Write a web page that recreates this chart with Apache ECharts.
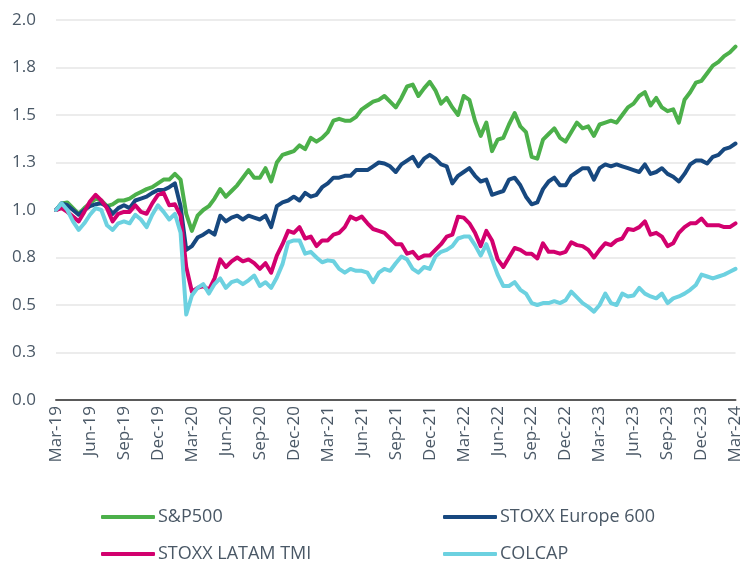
<!DOCTYPE html>
<html>
<head>
<meta charset="utf-8">
<script src="https://cdn.jsdelivr.net/npm/echarts@6/dist/echarts.min.js"></script>
<style>
html, body { margin: 0; padding: 0; background: #fff; }
#chart { width: 744px; height: 562px; }
</style>
</head>
<body>
<div id="chart"></div>
<script>
// quarterly tick labels on the x axis (one every 3 months)
const xTicks = ['Mar-19','Jun-19','Sep-19','Dec-19','Mar-20','Jun-20','Sep-20','Dec-20',
  'Mar-21','Jun-21','Sep-21','Dec-21','Mar-22','Jun-22','Sep-22','Dec-22',
  'Mar-23','Jun-23','Sep-23','Dec-23','Mar-24'];

// indexed values (Mar-19 = 1), sampled every half month
const sp500 = [
  1.00,1.035,1.04,1.01,0.98,1.01,1.035,1.06,1.05,1.02,1.03,1.05,
  1.05,1.06,1.08,1.095,1.11,1.12,1.14,1.16,1.16,1.19,1.16,0.98,
  0.89,0.97,1.00,1.02,1.06,1.11,1.07,1.10,1.13,1.17,1.21,1.17,
  1.17,1.22,1.15,1.25,1.29,1.30,1.31,1.34,1.32,1.38,1.36,1.38,
  1.41,1.47,1.48,1.47,1.47,1.49,1.53,1.55,1.57,1.58,1.60,1.57,
  1.54,1.59,1.65,1.66,1.60,1.64,1.675,1.63,1.56,1.59,1.54,1.50,
  1.60,1.58,1.47,1.39,1.46,1.31,1.37,1.38,1.45,1.51,1.44,1.41,
  1.28,1.27,1.37,1.40,1.43,1.38,1.36,1.41,1.46,1.43,1.44,1.39,
  1.45,1.46,1.47,1.46,1.50,1.54,1.56,1.60,1.62,1.55,1.59,1.54,
  1.52,1.53,1.46,1.58,1.62,1.67,1.68,1.72,1.76,1.78,1.81,1.83,
  1.86
];
const stoxx600 = [
  1.00,1.035,1.025,1.00,0.975,1.00,1.02,1.03,1.035,1.02,0.98,1.01,
  1.025,1.01,1.05,1.06,1.07,1.09,1.105,1.105,1.12,1.14,1.02,0.79,
  0.81,0.855,0.87,0.89,0.87,0.97,0.94,0.96,0.97,0.95,0.97,0.96,
  0.95,0.97,0.91,1.02,1.04,1.05,1.07,1.05,1.09,1.07,1.08,1.12,
  1.14,1.17,1.17,1.18,1.18,1.21,1.21,1.21,1.23,1.25,1.245,1.23,
  1.20,1.24,1.26,1.28,1.23,1.27,1.29,1.27,1.24,1.23,1.14,1.18,
  1.20,1.22,1.18,1.15,1.16,1.08,1.09,1.10,1.16,1.17,1.13,1.07,
  1.03,1.04,1.11,1.15,1.17,1.13,1.13,1.18,1.20,1.22,1.22,1.16,
  1.22,1.24,1.23,1.24,1.23,1.22,1.21,1.20,1.24,1.19,1.20,1.22,
  1.19,1.175,1.15,1.19,1.24,1.26,1.26,1.245,1.28,1.29,1.32,1.33,
  1.35
];
const latamTmi = [
  1.00,1.01,0.99,0.965,0.94,0.99,1.045,1.08,1.05,1.01,0.94,0.98,
  0.99,0.99,1.025,0.99,0.98,1.035,1.08,1.09,1.025,1.03,0.97,0.70,
  0.57,0.59,0.60,0.58,0.64,0.74,0.70,0.73,0.75,0.73,0.74,0.72,
  0.69,0.72,0.67,0.76,0.82,0.89,0.88,0.91,0.85,0.86,0.81,0.84,
  0.84,0.87,0.88,0.91,0.965,0.95,0.965,0.93,0.90,0.89,0.88,0.85,
  0.82,0.82,0.77,0.78,0.745,0.76,0.76,0.79,0.82,0.86,0.87,0.965,
  0.96,0.93,0.88,0.81,0.89,0.84,0.74,0.70,0.75,0.80,0.79,0.77,
  0.77,0.745,0.825,0.78,0.78,0.77,0.78,0.83,0.815,0.81,0.79,0.75,
  0.79,0.825,0.815,0.84,0.85,0.90,0.895,0.91,0.94,0.87,0.88,0.86,
  0.81,0.825,0.88,0.91,0.93,0.93,0.955,0.92,0.92,0.92,0.91,0.91,
  0.93
];
const colcap = [
  1.00,1.035,1.00,0.94,0.895,0.93,0.975,1.01,1.00,0.92,0.895,0.93,
  0.94,0.93,0.975,0.95,0.91,0.975,1.025,0.99,0.95,0.98,0.88,0.45,
  0.55,0.59,0.61,0.56,0.61,0.64,0.59,0.62,0.63,0.61,0.63,0.655,
  0.60,0.62,0.59,0.645,0.715,0.83,0.84,0.84,0.77,0.78,0.75,0.725,
  0.735,0.73,0.69,0.67,0.69,0.68,0.68,0.67,0.62,0.67,0.69,0.68,
  0.72,0.755,0.74,0.69,0.67,0.70,0.69,0.755,0.78,0.79,0.81,0.85,
  0.86,0.86,0.815,0.76,0.82,0.74,0.66,0.60,0.60,0.62,0.58,0.56,
  0.51,0.50,0.51,0.51,0.52,0.51,0.525,0.57,0.54,0.51,0.49,0.465,
  0.50,0.56,0.51,0.50,0.56,0.545,0.55,0.59,0.56,0.545,0.535,0.56,
  0.51,0.535,0.545,0.56,0.58,0.605,0.66,0.65,0.64,0.65,0.66,0.675,
  0.69
];

const STEP = 0.5; // months between two samples
const textColor = '#4a5866';
const font = 'Open Sans';

function pts(arr) {
  return arr.map((v, i) => [i * STEP, v]);
}

function line(name, data, color) {
  return {
    name: name,
    type: 'line',
    data: pts(data),
    symbol: 'none',
    color: color,
    lineStyle: { width: 4, color: color, cap: 'round', join: 'round' }
  };
}

// one legend per entry so they sit in a 2x2 block
function legendItem(name, left, top) {
  return {
    left: left, top: top,
    icon: 'roundRect',
    itemWidth: 54, itemHeight: 4,
    itemGap: 0,
    data: [name],
    textStyle: { color: textColor, fontSize: 18, fontFamily: font, padding: [0, 0, 0, -2] }
  };
}

const chart = echarts.init(document.getElementById('chart'));

let option = {
  backgroundColor: '#ffffff',
  animation: false,
  textStyle: { fontFamily: font },
  grid: { left: 56, right: 8, top: 20, bottom: 162 },
  legend: [
    legendItem('S&P500', 96, 503),
    legendItem('STOXX Europe 600', 438, 503),
    legendItem('STOXX LATAM TMI', 96, 540),
    legendItem('COLCAP', 438, 540)
  ],
  xAxis: {
    type: 'value',
    min: 0,
    max: 60,
    interval: 3,
    axisLine: { show: true, onZero: false, lineStyle: { color: '#5a5a5a', width: 2 } },
    axisTick: { show: false },
    splitLine: { show: false },
    axisLabel: {
      rotate: 90,
      margin: 6,
      color: textColor,
      fontSize: 17,
      fontFamily: font,
      formatter: v => xTicks[Math.round(v / 3)]
    }
  },
  yAxis: {
    type: 'value',
    min: 0,
    max: 2,
    interval: 0.25,
    axisLine: { show: false },
    axisTick: { show: false },
    splitLine: { lineStyle: { color: '#ececec', width: 2 } },
    axisLabel: {
      margin: 20,
      color: textColor,
      fontSize: 17,
      fontFamily: font,
      formatter: v => v.toFixed(1)
    }
  },
  series: [
    line('S&P500', sp500, '#4cb04a'),
    line('STOXX Europe 600', stoxx600, '#17487f'),
    line('STOXX LATAM TMI', latamTmi, '#d2006e'),
    line('COLCAP', colcap, '#6cd1e0')
  ]
};

chart.setOption(option);
</script>
</body>
</html>
